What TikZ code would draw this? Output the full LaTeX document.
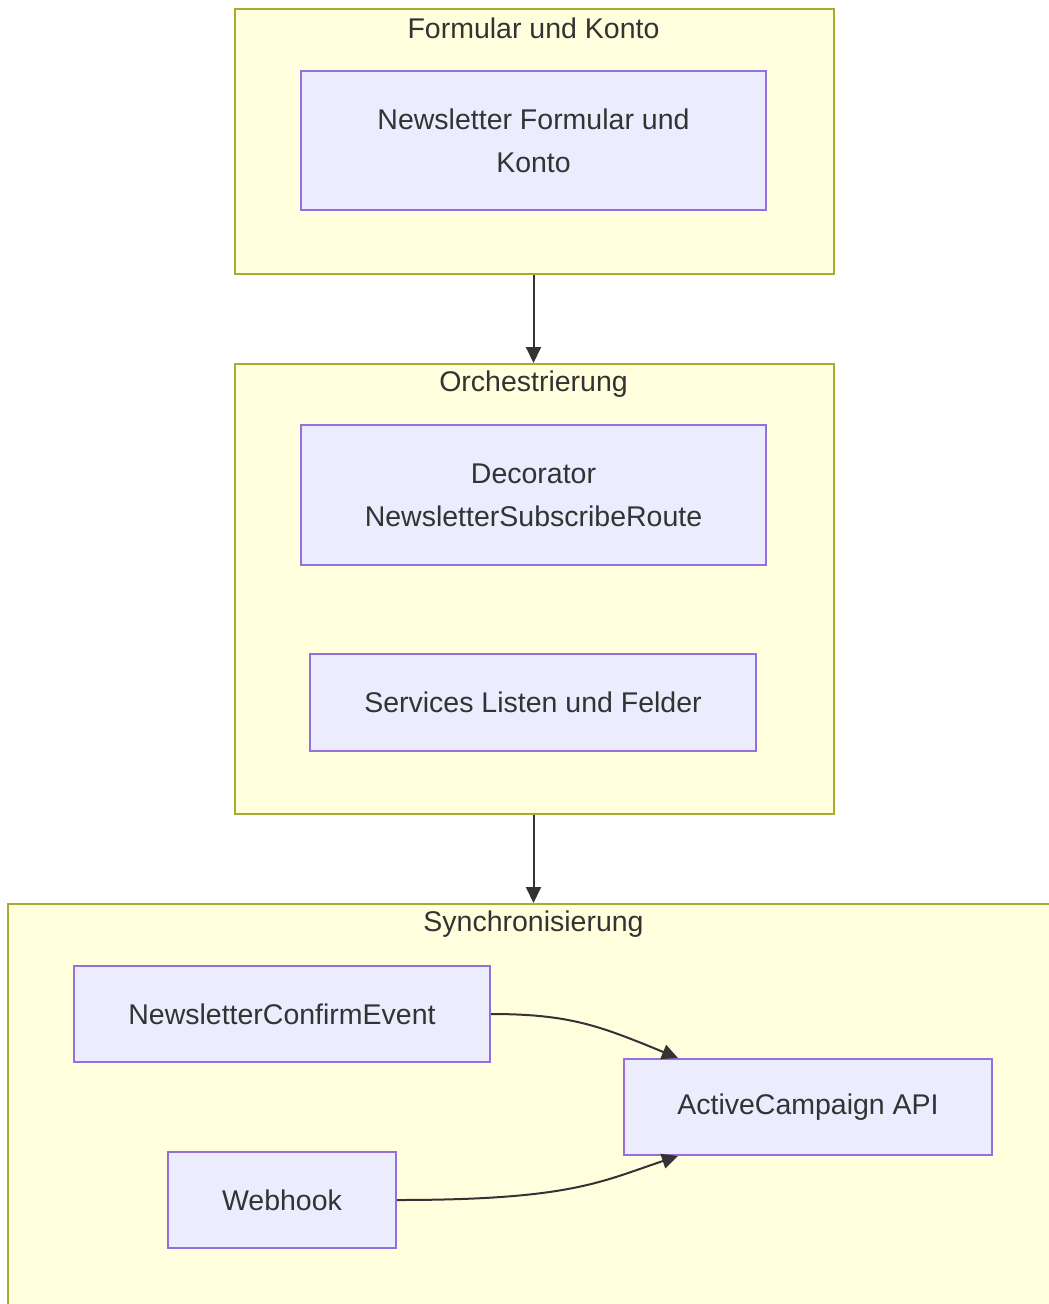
\documentclass[tikz,border=0pt]{standalone}
\usepackage{fontspec}
\setmainfont{Liberation Sans}
\usetikzlibrary{arrows.meta}
\definecolor{clfill}{HTML}{FFFFDE}
\definecolor{cldraw}{HTML}{AAAA33}
\definecolor{ndfill}{HTML}{ECECFF}
\definecolor{nddraw}{HTML}{9370DB}
\definecolor{txt}{HTML}{333333}
\begin{document}
\begin{tikzpicture}[x=1pt,y=-1pt,
  cluster/.style={draw=cldraw,fill=clfill,line width=2pt,inner sep=0pt,anchor=north west},
  box/.style={draw=nddraw,fill=ndfill,line width=2pt,inner sep=0pt,text=txt,align=center,
    font=\fontsize{28.5}{43}\selectfont},
  title/.style={text=txt,font=\fontsize{28.5}{34}\selectfont,inner sep=0pt},
  conn/.style={draw=txt,line width=2pt,-{Triangle[length=16pt,width=15pt]}}]
\useasboundingbox (0,0) rectangle (1049,1304);
\clip (0,0) rectangle (1049,1304);
% clusters
\node[cluster,minimum width=599pt,minimum height=265pt] (c1) at (234,8) {};
\node[title] (t1) at (533.5,28) {Formular und Konto};
\node[cluster,minimum width=599pt,minimum height=450pt] (c2) at (234,363) {};
\node[title] (t2) at (533.5,384) {Orchestrierung};
\node[cluster,minimum width=1060pt,minimum height=420pt] (c3) at (7,903) {};
\node[title] (t3) at (533.5,924) {Synchronisierung};
% nodes
\node[box,minimum width=465pt,minimum height=139pt] (a) at (533.5,140.5) {Newsletter Formular und\\Konto};
\node[box,minimum width=465pt,minimum height=140pt] (b) at (533.5,495) {Decorator\\NewsletterSubscribeRoute};
\node[box,minimum width=446pt,minimum height=97pt] (c) at (533,702.5) {Services Listen und Felder};
\node[box,minimum width=416pt,minimum height=96pt] (d) at (282,1014) {NewsletterConfirmEvent};
\node[box,minimum width=368pt,minimum height=96pt] (e) at (808,1107) {ActiveCampaign API};
\node[box,minimum width=228pt,minimum height=96pt] (f) at (282,1200) {Webhook};
% connectors
\draw[conn] (c1.south -| t1) -- (c2.north -| t1);
\draw[conn] (c2.south -| t2) -- (c3.north -| t2);
\coordinate (et) at ([xshift=-130pt]e.north);
\coordinate (eb) at ([xshift=-130pt]e.south);
\draw[conn] (d.east) .. controls (570,1014) and (600,1026) .. (et);
\draw[conn] (f.east) .. controls (570,1200) and (600,1182) .. (eb);
\end{tikzpicture}
\end{document}
